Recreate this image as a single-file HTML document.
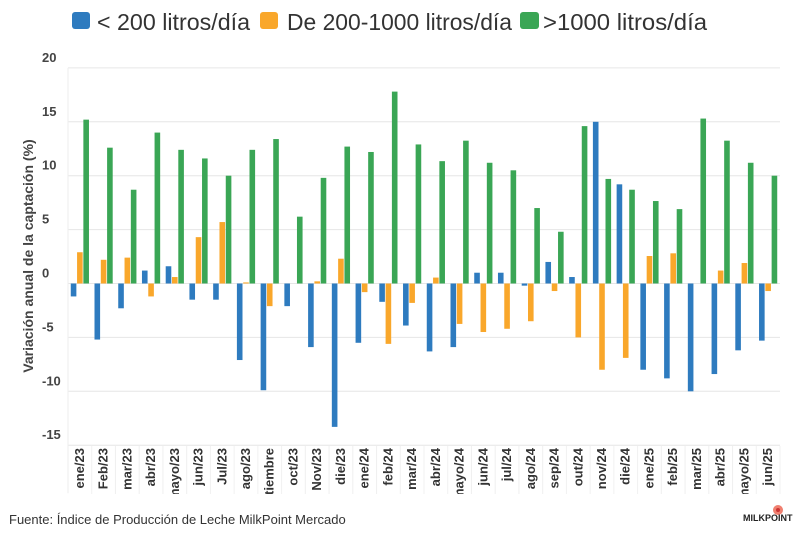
<!DOCTYPE html>
<html><head><meta charset="utf-8"><style>
body{margin:0;background:#fff;width:800px;height:536px;overflow:hidden;font-family:"Liberation Sans",sans-serif}
</style></head><body>
<svg id="chart" width="800" height="536" xmlns="http://www.w3.org/2000/svg">
<defs><clipPath id="lc"><rect x="60" y="446" width="730" height="48"/></clipPath></defs>
<g font-size="23" fill="#333">
<g><rect x="72" y="12" width="18" height="17" rx="3" fill="#2e7bbf"/><text x="97" y="30" textLength="153" lengthAdjust="spacingAndGlyphs">&lt; 200 litros/día</text></g>
<g><rect x="260" y="12" width="18" height="17" rx="3" fill="#f9a72b"/><text x="287" y="30" textLength="225" lengthAdjust="spacingAndGlyphs">De 200-1000 litros/día</text></g>
<g><rect x="520" y="12" width="19" height="17" rx="3" fill="#3aa655"/><text x="543" y="30" textLength="164" lengthAdjust="spacingAndGlyphs">&gt;1000 litros/día</text></g>
</g>
<text transform="translate(33,256) rotate(-90)" text-anchor="middle" font-size="14" font-weight="bold" fill="#444">Variación anual de la captación (%)</text>
<g id="grid"></g><g id="bars"></g><g id="xl" clip-path="url(#lc)"></g>
<text x="9" y="524" font-size="13" fill="#333">Fuente: Índice de Producción de Leche MilkPoint Mercado</text>
<g><circle cx="778" cy="510" r="5" fill="#f08070"/><circle cx="778" cy="510" r="2" fill="#c33"/><text x="743" y="521" font-size="9" font-weight="bold" fill="#222">MILKPOINT</text></g>
</svg>
<script>
const categories=["ene/23","Feb/23","mar/23","abr/23","mayo/23","jun/23","Jul/23","ago/23","septiembre","oct/23","Nov/23","die/23","ene/24","feb/24","mar/24","abr/24","mayo/24","jun/24","jul/24","ago/24","sep/24","out/24","nov/24","die/24","ene/25","feb/25","mar/25","abr/25","mayo/25","jun/25"];
const small=[-1.2,-5.2,-2.3,1.2,1.6,-1.5,-1.5,-7.1,-9.9,-2.1,-5.9,-13.3,-5.5,-1.7,-3.9,-6.3,-5.9,1.0,1.0,-0.2,2.0,0.6,15.0,9.2,-8.0,-8.8,-10.0,-8.4,-6.2,-5.3];
const medium=[2.9,2.2,2.4,-1.2,0.6,4.3,5.7,0.1,-2.1,0,0.2,2.3,-0.8,-5.6,-1.8,0.55,-3.75,-4.5,-4.2,-3.5,-0.7,-5.0,-8.0,-6.9,2.55,2.8,0,1.2,1.9,-0.7];
const large=[15.2,12.6,8.7,14.0,12.4,11.6,10.0,12.4,13.4,6.2,9.8,12.7,12.2,17.8,12.9,11.35,13.25,11.2,10.5,7.0,4.8,14.6,9.7,8.7,7.65,6.9,15.3,13.25,11.2,10.0];
const yTicks=[20,15,10,5,0,-5,-10,-15];
const NS="http://www.w3.org/2000/svg";
const L=68,R=780,Y0=283.5,U=10.78;
const y=v=>Y0-v*U;
const gw=(R-L)/categories.length;
const xc=i=>L+gw*(i+0.5);
function mk(t,a,p){const e=document.createElementNS(NS,t);for(const k in a)e.setAttribute(k,a[k]);p.appendChild(e);return e;}
const grid=document.getElementById('grid'),bars=document.getElementById('bars'),xl=document.getElementById('xl');
yTicks.forEach(v=>{
 const ln=mk('line',{x1:L,x2:R,y1:y(v),y2:y(v),stroke:'#e6e6e6','stroke-width':1},grid);
 
 
 const t=mk('text',{x:42,y:y(v)-6,'font-size':13,'font-weight':'bold',fill:'#444'},grid);
 t.textContent=v;
 
 
});
mk('line',{x1:L,x2:L,y1:y(20),y2:y(-15)+48,stroke:'#eee'},grid);
const series=[[small,'#2e7bbf',-6.3,'bar-small'],[medium,'#f9a72b',0,'bar-medium'],[large,'#3aa655',6.3,'bar-large']];
categories.forEach((c,i)=>{
 series.forEach(([arr,col,off,nm])=>{
  const v=arr[i];if(v===0)return;
  const r=mk('rect',{x:xc(i)+off-2.8,width:5.6,y:Math.min(y(v),y(0)),height:Math.abs(y(v)-y(0)),fill:col},bars);
  
  
 });
 mk('line',{x1:L+gw*(i+1),x2:L+gw*(i+1),y1:446,y2:494,stroke:'#f0f0f0'},xl);
 const t=mk('text',{transform:`translate(${xc(i)-1},448) rotate(-90)`,'text-anchor':'end','font-size':13,'font-weight':'bold',fill:'#333',dy:5},xl);
 t.textContent=c;
 
 
});
</script>
</body></html>
